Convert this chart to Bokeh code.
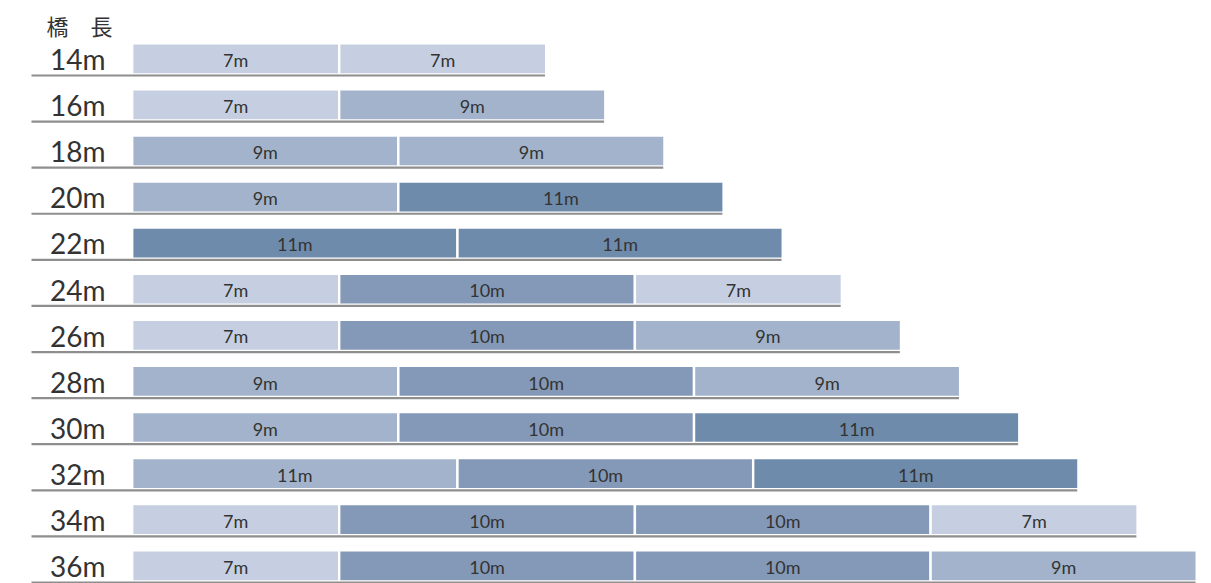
from bokeh.plotting import figure
from bokeh.models import Range1d, ColumnDataSource
from bokeh.core.properties import value
from bokeh.embed import file_html
from bokeh.resources import INLINE

# ---- data ----
bridge_lengths = ["14m", "16m", "18m", "20m", "22m", "24m",
                  "26m", "28m", "30m", "32m", "34m", "36m"]
spans = [
    [7, 7],
    [7, 9],
    [9, 9],
    [9, 11],
    [11, 11],
    [7, 10, 7],
    [7, 10, 9],
    [9, 10, 9],
    [9, 10, 11],
    [11, 10, 11],
    [7, 10, 10, 7],
    [7, 10, 10, 9],
]
# shade index per segment (0 lightest .. 3 darkest)
shades = [
    [0, 0],
    [0, 1],
    [1, 1],
    [1, 3],
    [3, 3],
    [0, 2, 0],
    [0, 2, 1],
    [1, 2, 1],
    [1, 2, 3],
    [1, 2, 3],
    [0, 2, 2, 0],
    [0, 2, 2, 1],
]
palette = ["#C6CFE1", "#A2B3CB", "#8499B7", "#6E8BAC"]
title_text = "橋　長"

# ---- layout constants (canvas pixels) ----
W, H = 1211, 583
PX_M = 29.57         # pixels per metre
ROW = 46.09          # pixels per row
X0 = 131.7           # canvas x of 0 m
Y0 = 58.3            # canvas y of first row centre
BAR_H = 31.1 / ROW

p = figure(width=W, height=H, output_backend="svg", toolbar_location=None,
           x_range=Range1d(-X0 / PX_M, (W - X0) / PX_M),
           y_range=Range1d((H - Y0) / ROW, -Y0 / ROW),
           x_axis_type=None, y_axis_type=None, min_border=0)
p.grid.visible = False
p.outline_line_color = None
p.background_fill_color = "white"
p.border_fill_color = "white"

left, right, ys, cols, mids, labs = [], [], [], [], [], []
tot, rows = [], []
for i, (segs, sh) in enumerate(zip(spans, shades)):
    c = 0
    for s, k in zip(segs, sh):
        left.append(c)
        right.append(c + s)
        ys.append(i)
        cols.append(palette[k])
        mids.append(c + s / 2)
        labs.append(f"{s}m")
        c += s
    tot.append(c)
    rows.append(i)

seg_src = ColumnDataSource(dict(left=left, right=right, y=ys, color=cols,
                                mid=mids, lab=labs,
                                ly=[y + 1.1 / ROW for y in ys]))
row_src = ColumnDataSource(dict(y=rows, total=[t - 1.2 / PX_M for t in tot],
                                name=bridge_lengths,
                                uy=[r + 16.7 / ROW for r in rows],
                                ty=[r + 0.3 / ROW for r in rows],
                                x0=[(31.0 - X0) / PX_M] * len(rows),
                                tx=[(49.5 - X0) / PX_M] * len(rows)))

# bars
p.hbar(y="y", left="left", right="right", height=BAR_H, source=seg_src,
       fill_color="color", line_color="white", line_width=2.4)

# underlines
p.segment(x0="x0", x1="total", y0="uy", y1="uy", source=row_src,
          line_color="#8E8E8E", line_width=2.2)

# segment labels
p.text(x="mid", y="ly", text="lab", source=seg_src,
       text_font=value("Lato"), text_font_size="18px", text_color="#333333",
       text_align="center", text_baseline="alphabetic")

# row labels
p.text(x="tx", y="ty", text="name", source=row_src,
       text_font=value("Lato"), text_font_size="28px", text_color="#333333",
       text_align="left", text_baseline="alphabetic")

# title
p.text(x=[(46 - X0) / PX_M], y=[(24.5 - Y0) / ROW], text=[title_text],
       text_font=value("Noto Sans CJK JP"), text_font_size="22px",
       text_color="#333333", text_align="left", text_baseline="alphabetic")

open("out.html", "w").write(file_html(p, INLINE))
